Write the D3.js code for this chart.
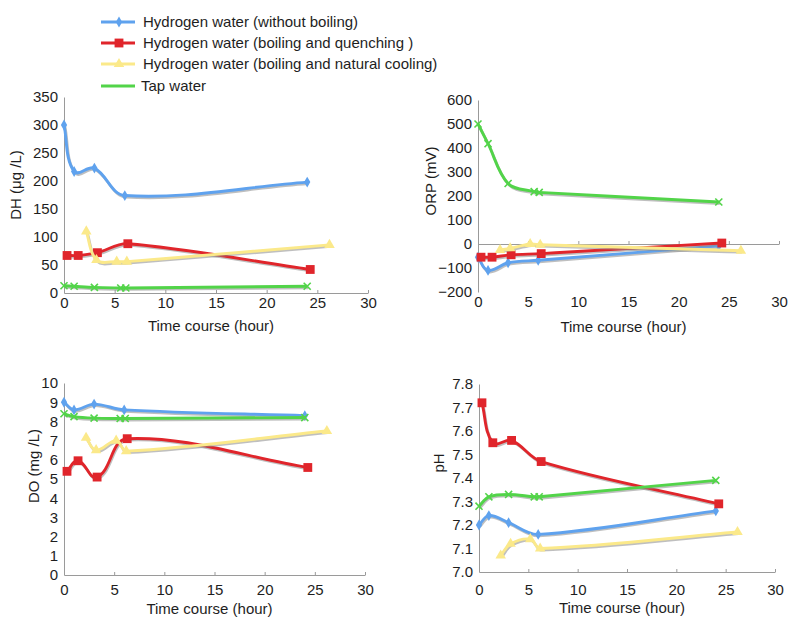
<!DOCTYPE html>
<html>
<head>
<meta charset="utf-8">
<script src="https://cdn.jsdelivr.net/npm/d3@7"></script>
<style>
  body { margin: 0; background: #fff; }
  svg text { font-family: "Liberation Sans", Arial, sans-serif; fill: #1e1e1e; }
</style>
</head>
<body>
<svg id="chart" width="791" height="619"></svg>
<script>
// series info
const seriesNames = [
  "Hydrogen water (without boiling)",
  "Hydrogen water (boiling and quenching )",
  "Hydrogen water (boiling and natural cooling)",
  "Tap water"
];
const seriesColors = ["#5fa2ee", "#e0252b", "#fbe98a", "#52d449"];

// time points (hour) per series
const timesBlue = [0, 1, 3, 6, 24];
const timesRed = [0.3, 1.4, 3.3, 6.3, 24.3];
const timesYellow = [2.2, 3.2, 5.2, 6.2, 26.2];
const timesGreen = [0, 1, 3, 5.6, 6.1, 24];

// DH (µg/L)
const dhBlue = [300, 217, 223, 174, 198];
const dhRed = [67, 67, 72, 88, 42];
const dhYellow = [110, 59, 56, 56, 86];
const dhGreen = [13, 12, 10, 9, 9, 12];

// ORP (mV)
const orpBlue = [-55, -110, -78, -68, -8];
const orpRed = [-55, -55, -45, -40, 4];
const orpYellow = [-25, -18, 0, -3, -28];
const orpGreen = [500, 418, 252, 218, 215, 175];

// DO (mg/L)
const doBlue = [9.0, 8.6, 8.9, 8.6, 8.3];
const doRed = [5.4, 5.95, 5.1, 7.1, 5.6];
const doYellow = [7.15, 6.5, 7.0, 6.45, 7.5];
const doGreen = [8.4, 8.25, 8.17, 8.15, 8.15, 8.2];

// pH
const phBlue = [7.20, 7.24, 7.21, 7.16, 7.26];
const phRed = [7.72, 7.55, 7.56, 7.47, 7.29];
const phYellow = [7.07, 7.12, 7.14, 7.10, 7.17];
const phGreen = [7.28, 7.32, 7.33, 7.32, 7.32, 7.39];

const xTicks = [0, 5, 10, 15, 20, 25, 30];
const seriesTimes = [timesBlue, timesRed, timesYellow, timesGreen];

const panels = [
  { ylab: "DH (μg /L)", x0: 64, x1: 368, yTop: 97, yBot: 293, dom: [0, 350], ticks: d3.range(0, 351, 50), fmt: d3.format("d"),
    vals: [dhBlue, dhRed, dhYellow, dhGreen], labY: 303, titleY: 326, ylx: 16, yly: 185, zero: false },
  { ylab: "ORP (mV)", x0: 478, x1: 779, yTop: 100, yBot: 292, dom: [-200, 600], ticks: d3.range(-200, 601, 100), fmt: d3.format("d"),
    vals: [orpBlue, orpRed, orpYellow, orpGreen], labY: 302, titleY: 327, ylx: 431, yly: 181, zero: true },
  { ylab: "DO (mg /L)", x0: 64, x1: 365, yTop: 383, yBot: 575, dom: [0, 10], ticks: d3.range(0, 11, 1), fmt: d3.format("d"),
    vals: [doBlue, doRed, doYellow, doGreen], labY: 590, titleY: 609, ylx: 34, yly: 466, zero: false },
  { ylab: "pH", x0: 479, x1: 775, yTop: 384, yBot: 572, dom: [7.0, 7.8], ticks: d3.range(70, 79, 1).map(d => d / 10), fmt: d3.format(".1f"),
    vals: [phBlue, phRed, phYellow, phGreen], labY: 590, titleY: 608, ylx: 439, yly: 463, zero: false }
];

const svg = d3.select("#chart");
const axisCol = "#9a9a9a";

// spreadsheet-style smoothing: tangent direction from neighbours,
// handle length = 1/3 of the segment it sits on (no loops on short steps)
function smoothCurve(context) {
  let pts;
  return {
    areaStart() {}, areaEnd() {},
    lineStart() { pts = []; },
    point(x, y) { pts.push([+x, +y]); },
    lineEnd() {
      const n = pts.length;
      if (!n) return;
      context.moveTo(pts[0][0], pts[0][1]);
      const dir = i => {
        const a = pts[Math.max(i - 1, 0)], b = pts[Math.min(i + 1, n - 1)];
        const dx = b[0] - a[0], dy = b[1] - a[1], L = Math.hypot(dx, dy) || 1;
        return [dx / L, dy / L];
      };
      for (let i = 0; i < n - 1; i++) {
        const p = pts[i], q = pts[i + 1];
        const L = Math.hypot(q[0] - p[0], q[1] - p[1]) / 3;
        const d0 = dir(i), d1 = dir(i + 1);
        context.bezierCurveTo(p[0] + d0[0] * L, p[1] + d0[1] * L,
          q[0] - d1[0] * L, q[1] - d1[1] * L, q[0], q[1]);
      }
    }
  };
}

function marker(sel, i, x, y) {
  if (i === 0) {
    sel.append("path").attr("transform", `translate(${x},${y})`)
      .attr("d", d3.symbol(d3.symbolDiamond, 34)).attr("fill", seriesColors[0]);
  } else if (i === 1) {
    sel.append("path").attr("transform", `translate(${x},${y})`)
      .attr("d", d3.symbol(d3.symbolSquare, 78)).attr("fill", seriesColors[1]);
  } else if (i === 2) {
    sel.append("path").attr("transform", `translate(${x},${y})`)
      .attr("d", d3.symbol(d3.symbolTriangle, 48)).attr("fill", seriesColors[2]);
  } else {
    sel.append("path").attr("transform", `translate(${x},${y})`)
      .attr("d", d3.symbol(d3.symbolTimes, 34)).attr("fill", "none")
      .attr("stroke", seriesColors[3]).attr("stroke-width", 1.6);
  }
}

panels.forEach(p => {
  const g = svg.append("g");
  const x = d3.scaleLinear().domain([0, 30]).range([p.x0, p.x1]);
  const y = d3.scaleLinear().domain(p.dom).range([p.yBot, p.yTop]);

  // y axis
  const ya = g.append("g").attr("transform", `translate(${p.x0},0)`)
    .call(d3.axisLeft(y).tickValues(p.ticks).tickFormat(p.fmt).tickSize(0).tickPadding(6));
  ya.select(".domain").attr("stroke", axisCol);
  ya.selectAll("text").attr("font-size", 15).attr("fill", "#1e1e1e");

  // x axis (ORP: line sits at zero, labels at the bottom)
  const lineY = p.zero ? y(0) : p.yBot;
  const xa = g.append("g").attr("transform", `translate(0,${lineY})`)
    .call(d3.axisBottom(x).tickValues(xTicks).tickSizeInner(-3).tickSizeOuter(0)
      .tickPadding(p.labY - lineY - 6));
  xa.select(".domain").attr("stroke", axisCol);
  xa.selectAll(".tick line").attr("stroke", axisCol);
  xa.selectAll(".tick line").filter(d => d === 0).remove();
  xa.selectAll("text").attr("font-size", 15).attr("fill", "#1e1e1e");

  g.append("text").attr("x", (p.x0 + p.x1) / 2 - 5).attr("y", p.titleY).attr("dy", "0.35em")
    .attr("text-anchor", "middle").attr("font-size", 15).text("Time course (hour)");
  g.append("text").attr("transform", `translate(${p.ylx},${p.yly}) rotate(-90)`).attr("dy", "0.35em")
    .attr("text-anchor", "middle").attr("font-size", 15).text(p.ylab);

  const line = d3.line().x(d => x(d[0])).y(d => y(d[1])).curve(smoothCurve);

  p.vals.forEach((vals, i) => {
    const pts = seriesTimes[i].map((t, k) => [t, vals[k]]);
    // soft grey shadow under each line
    g.append("path").datum(pts).attr("d", line).attr("fill", "none")
      .attr("stroke", "#8a8a8a").attr("stroke-opacity", 0.55).attr("stroke-width", 2.6)
      .attr("transform", "translate(1,1.6)");
    g.append("path").datum(pts).attr("d", line).attr("fill", "none")
      .attr("stroke", seriesColors[i]).attr("stroke-width", 2.9).attr("stroke-linejoin", "round");
    const mg = g.append("g");
    pts.forEach(d => marker(mg, i, x(d[0]), y(d[1])));
  });
});

// legend
const leg = svg.append("g");
seriesNames.forEach((name, i) => {
  const ly = [22, 43, 64, 86][i];
  leg.append("line").attr("x1", 101).attr("x2", 135).attr("y1", ly).attr("y2", ly)
    .attr("stroke", seriesColors[i]).attr("stroke-width", 2.9);
  if (i < 3) marker(leg, i, 119, ly);
  leg.append("text").attr("x", i === 3 ? 141 : 143).attr("y", ly).attr("dy", "0.35em")
    .attr("font-size", 15).text(name);
});
</script>
</body>
</html>
